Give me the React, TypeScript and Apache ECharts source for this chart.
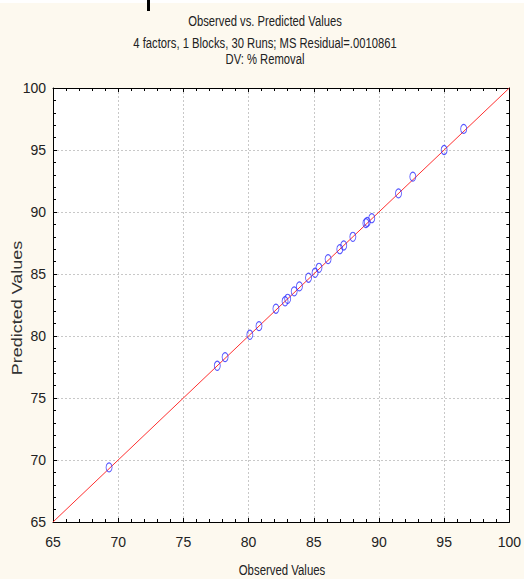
import React, { useEffect, useRef } from "react";
import * as echarts from "echarts";

const titleLines = [
  "Observed vs. Predicted Values",
  "4 factors, 1 Blocks, 30 Runs; MS Residual=.0010861",
  "DV: % Removal",
];
const xName = "Observed Values";
const yName = "Predicted Values";
const axisMin = 65;
const axisMax = 100;
const axisStep = 5;

const observed = [
  69.3, 77.6, 78.2, 80.1, 80.8, 82.1, 82.8, 83.0, 83.5, 83.9, 84.6, 85.1,
  85.4, 86.1, 87.0, 87.3, 88.0, 89.0, 89.1, 89.45, 91.5, 92.6, 95.0, 96.5,
];
const predicted = [
  69.4, 77.6, 78.3, 80.1, 80.8, 82.2, 82.8, 83.0, 83.6, 84.0, 84.7, 85.1,
  85.5, 86.2, 87.0, 87.3, 88.0, 89.1, 89.2, 89.5, 91.5, 92.85, 95.0, 96.7,
];
const fitLine = [
  [65, 65],
  [100, 100],
];

const FONT = "'Liberation Sans', Arial, sans-serif";

export default function App() {
  const ref = useRef<HTMLDivElement>(null);
  useEffect(() => {
    document.body.style.margin = "0";
    const chart = echarts.init(ref.current!, null, { renderer: "svg" });
    const mainAxis = (isX: boolean) => ({
      type: "value",
      min: axisMin,
      max: axisMax,
      interval: axisStep,
      position: isX ? "bottom" : "left",
      axisLine: { show: true, onZero: false, lineStyle: { color: "#000", width: 1 } },
      axisTick: { show: true, inside: true, length: 4, lineStyle: { color: "#000" } },
      minorTick: { show: true, splitNumber: 5, length: 3, lineStyle: { color: "#000" } },
      axisLabel: {
        color: "#222",
        fontFamily: FONT,
        fontSize: 14,
        margin: isX ? 13 : 7,
      },
      splitLine: { show: true, lineStyle: { color: "#c8c8c8", type: [2, 2], width: 1 } },
      minorSplitLine: { show: false },
    });
    const secAxis = (isX: boolean) => ({
      type: "value",
      min: axisMin,
      max: axisMax,
      interval: axisStep,
      position: isX ? "top" : "right",
      axisLine: { show: true, onZero: false, lineStyle: { color: "#000", width: 1 } },
      axisTick: { show: true, inside: true, length: 4, lineStyle: { color: "#000" } },
      minorTick: { show: true, splitNumber: 5, length: 3, lineStyle: { color: "#000" } },
      axisLabel: { show: false },
      splitLine: { show: false },
    });
    const titleY = [21, 43, 59];
    chart.setOption({
      animation: false,
      backgroundColor: "#FDF9EF",
      grid: {
        left: 53,
        top: 88,
        width: 460,
        height: 434,
        show: true,
        backgroundColor: "#ffffff",
        borderWidth: 0,
      },
      xAxis: [mainAxis(true), secAxis(true)],
      yAxis: [mainAxis(false), secAxis(false)],
      graphic: [
        { type: "rect", left: 0, top: 0, shape: { width: 524, height: 3 }, style: { fill: "#ffffff" } },
        { type: "rect", left: 147, top: 0, shape: { width: 3, height: 11 }, style: { fill: "#000000" } },
        ...titleLines.map((t, i) => ({
          type: "text",
          x: 265,
          y: titleY[i],
          scaleX: 0.75,
          style: {
            text: t,
            fontFamily: FONT,
            fontSize: 15,
            fill: "#222",
            textAlign: "center",
            textVerticalAlign: "middle",
          },
        })),
        {
          type: "text",
          x: 282,
          y: 570,
          scaleX: 0.76,
          style: {
            text: xName,
            fontFamily: FONT,
            fontSize: 15,
            fill: "#222",
            textAlign: "center",
            textVerticalAlign: "middle",
          },
        },
        {
          type: "text",
          x: 17,
          y: 308,
          rotation: Math.PI / 2,
          scaleX: 1.2,
          style: {
            text: yName,
            fontFamily: FONT,
            fontSize: 15,
            fill: "#333",
            textAlign: "center",
            textVerticalAlign: "middle",
          },
        },
      ],
      series: [
        {
          type: "line",
          data: fitLine,
          xAxisIndex: 0,
          yAxisIndex: 0,
          symbol: "none",
          lineStyle: { color: "#ff3030", width: 1 },
          silent: true,
          z: 2,
        },
        {
          type: "scatter",
          data: observed.map((o, i) => [o, predicted[i]]),
          xAxisIndex: 0,
          yAxisIndex: 0,
          symbol: "circle",
          symbolSize: [6, 9],
          itemStyle: { color: "rgba(0,0,0,0)", borderColor: "#2a2aff", borderWidth: 1 },
          z: 3,
        },
      ],
    });
    return () => chart.dispose();
  }, []);
  return <div ref={ref} style={{ width: 524, height: 579 }} />;
}
